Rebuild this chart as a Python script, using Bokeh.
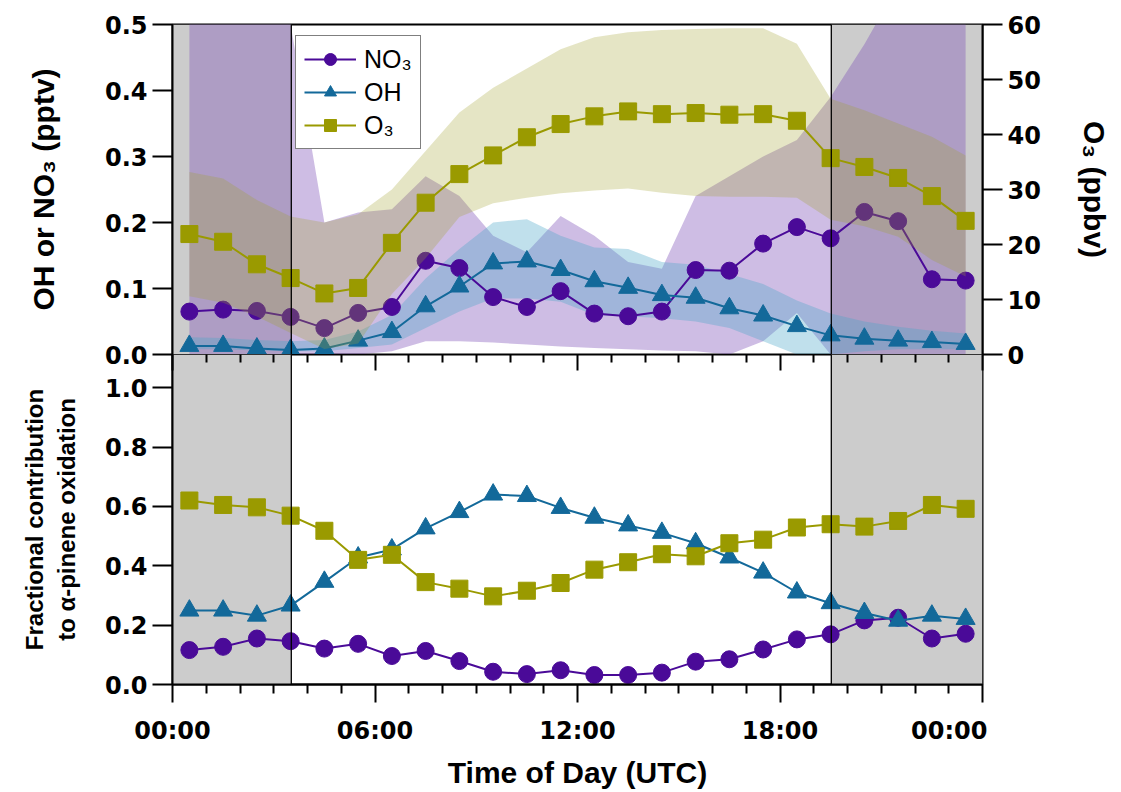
from bokeh.plotting import figure
from bokeh.models import (Range1d, LinearAxis, FixedTicker, PrintfTickFormatter, BoxAnnotation,
                          Span, Legend, LegendItem, CustomJSTickFormatter)
from bokeh.layouts import column
from bokeh.embed import file_html
from bokeh.resources import INLINE

# ---------------- data ----------------
hours = [0.5, 1.5, 2.5, 3.5, 4.5, 5.5, 6.5, 7.5, 8.5, 9.5, 10.5, 11.5,
         12.5, 13.5, 14.5, 15.5, 16.5, 17.5, 18.5, 19.5, 20.5, 21.5, 22.5, 23.5]

# top panel: mixing ratios
no3 = [0.065, 0.068, 0.066, 0.057, 0.040, 0.063, 0.072, 0.142, 0.131, 0.087, 0.072, 0.096,
       0.062, 0.058, 0.065, 0.128, 0.127, 0.168, 0.193, 0.176, 0.216, 0.202, 0.114, 0.112]
no3_lo = [0.0, 0.0, 0.0, 0.0, 0.0, 0.0, 0.005, 0.02, 0.02, 0.018, 0.015, 0.012,
          0.01, 0.008, 0.006, 0.005, 0.0, 0.02, 0.063, 0.0, 0.0, 0.0, 0.0, 0.0]
no3_hi = [0.60, 0.60, 0.60, 0.50, 0.20, 0.215, 0.22, 0.27, 0.24, 0.18, 0.155, 0.21,
          0.18, 0.14, 0.13, 0.24, 0.27, 0.30, 0.325, 0.39, 0.47, 0.56, 0.60, 0.60]

oh = [0.013, 0.013, 0.009, 0.007, 0.009, 0.021, 0.034, 0.073, 0.103, 0.138, 0.141, 0.128,
      0.111, 0.101, 0.090, 0.086, 0.070, 0.059, 0.043, 0.029, 0.024, 0.021, 0.019, 0.016]
oh_lo = [0.008, 0.008, 0.006, 0.005, 0.005, 0.01, 0.015, 0.04, 0.065, 0.085, 0.085, 0.08,
         0.06, 0.058, 0.055, 0.05, 0.04, 0.02, 0.0, 0.0, 0.005, 0.008, 0.008, 0.008]
oh_hi = [0.026, 0.025, 0.022, 0.02, 0.022, 0.035, 0.06, 0.115, 0.16, 0.2, 0.205, 0.18,
         0.162, 0.16, 0.14, 0.136, 0.122, 0.107, 0.082, 0.062, 0.05, 0.042, 0.036, 0.032]

o3 = [21.9, 20.5, 16.4, 13.9, 11.1, 12.1, 20.3, 27.6, 32.8, 36.2, 39.5, 41.9,
      43.3, 44.2, 43.7, 43.9, 43.6, 43.7, 42.5, 35.7, 34.1, 32.1, 28.8, 24.3]
o3_lo = [10.6, 9.4, 6.9, 3.9, 1.0, 2.0, 11.0, 17.5, 25.0, 27.5, 28.5, 29.3,
         29.8, 30.2, 29.4, 28.8, 28.7, 28.7, 28.5, 24.5, 23.3, 21.4, 17.2, 14.2]
o3_hi = [33.2, 32.0, 28.1, 25.1, 24.0, 25.5, 30.0, 37.0, 44.0, 48.5, 52.0, 55.5,
         57.7, 58.6, 59.0, 59.2, 59.3, 59.3, 56.5, 46.5, 44.4, 42.0, 39.6, 36.2]

# bottom panel: fractional contribution to alpha-pinene oxidation
frac_no3 = [0.116, 0.127, 0.155, 0.146, 0.121, 0.137, 0.096, 0.113, 0.079, 0.043, 0.035, 0.048,
            0.032, 0.032, 0.040, 0.077, 0.085, 0.118, 0.152, 0.169, 0.216, 0.225, 0.155, 0.171]
frac_oh = [0.249, 0.249, 0.232, 0.266, 0.346, 0.428, 0.455, 0.526, 0.581, 0.640, 0.635, 0.595,
           0.562, 0.536, 0.511, 0.476, 0.428, 0.377, 0.310, 0.274, 0.241, 0.215, 0.232, 0.221]
frac_o3 = [0.620, 0.605, 0.597, 0.569, 0.518, 0.420, 0.437, 0.345, 0.323, 0.297, 0.316, 0.342,
           0.387, 0.412, 0.439, 0.432, 0.476, 0.488, 0.529, 0.540, 0.532, 0.551, 0.605, 0.592]

sunrise = 3.52
sunset = 19.52
x_ticks = [0, 6, 12, 18, 24]
x_tick_labels = ["00:00", "06:00", "12:00", "18:00", "00:00"]
x_minor = [1, 2, 3, 4, 5, 7, 8, 9, 10, 11, 13, 14, 15, 16, 17, 19, 20, 21, 22, 23]
top_ticks = [0.0, 0.1, 0.2, 0.3, 0.4, 0.5]
o3_ticks = [0, 10, 20, 30, 40, 50, 60]
frac_ticks = [0.0, 0.2, 0.4, 0.6, 0.8, 1.0]

C_NO3 = "#4a0a98"
C_OH = "#13699a"
C_O3 = "#9a9a00"
TICK_FONT = "DejaVu Sans"
TITLE_FONT = "Liberation Sans"
OVERLAP = 20

def style_axis(ax, tick_len=20):
    ax.axis_line_color = "black"
    ax.axis_line_width = 2
    ax.major_tick_line_color = "black"
    ax.major_tick_line_width = 2
    ax.major_tick_out = tick_len
    ax.major_tick_in = 0
    ax.minor_tick_line_color = None
    ax.major_label_text_font = TICK_FONT
    ax.major_label_text_font_style = "bold"
    ax.major_label_text_font_size = "24px"
    ax.major_label_text_color = "black"
    ax.axis_label_text_font = TITLE_FONT
    ax.axis_label_text_font_style = "bold"
    ax.axis_label_text_color = "black"

# ---------------- top panel ----------------
top = figure(frame_width=810, frame_height=330, x_range=Range1d(0, 24), y_range=Range1d(0, 0.5),
             output_backend="svg", toolbar_location=None, x_axis_location=None,
             min_border_left=172, min_border_top=24, min_border_bottom=OVERLAP, min_border_right=5)
top.extra_y_ranges = {"o3": Range1d(0, 60)}
top.grid.visible = False
top.outline_line_color = "black"
top.outline_line_width = 2
top.background_fill_color = "white"

for a, b in [(0, sunrise), (sunset, 24)]:
    top.add_layout(BoxAnnotation(left=a, right=b, fill_color="#cccccc", fill_alpha=1.0,
                                 line_color=None, level="underlay"))

top.varea(x=hours, y1=no3_lo, y2=no3_hi, fill_color="#7e52b8", fill_alpha=0.38)
top.varea(x=hours, y1=oh_lo, y2=oh_hi, fill_color="#4aa6c8", fill_alpha=0.35)

l_no3 = top.line(hours, no3, line_color=C_NO3, line_width=2)
s_no3 = top.scatter(hours, no3, marker="circle", size=17, fill_color=C_NO3, line_color=C_NO3)
l_oh = top.line(hours, oh, line_color=C_OH, line_width=2)
s_oh = top.scatter(hours, oh, marker="triangle", size=19, fill_color=C_OH, line_color=C_OH)

top.varea(x=hours, y1=o3_lo, y2=o3_hi, fill_color="#a0a030", fill_alpha=0.28, y_range_name="o3")
l_o3 = top.line(hours, o3, line_color=C_O3, line_width=2, y_range_name="o3")
s_o3 = top.scatter(hours, o3, marker="square", size=17, fill_color=C_O3, line_color=C_O3,
                   y_range_name="o3")

ly = top.yaxis[0]
ly.ticker = FixedTicker(ticks=top_ticks)
ly.formatter = PrintfTickFormatter(format="%.1f")
style_axis(ly)
ly.axis_label = "OH or NO₃ (pptv)"
ly.axis_label_text_font_size = "30px"
ly.axis_label_standoff = 42

ry = LinearAxis(y_range_name="o3", ticker=FixedTicker(ticks=o3_ticks))
style_axis(ry)
ry.axis_label = "O₃ (ppbv)"
ry.axis_label_text_font_size = "30px"
ry.axis_label_standoff = 34
top.add_layout(ry, "right")

for s in (sunrise, sunset):
    top.add_layout(Span(location=s, dimension="height", line_color="black", line_width=1.3))

legend = Legend(items=[LegendItem(label="NO₃", renderers=[l_no3, s_no3]),
                       LegendItem(label="OH", renderers=[l_oh, s_oh]),
                       LegendItem(label="O₃", renderers=[l_o3, s_o3])],
                location=(123, 205))
legend.label_text_font = "Liberation Sans"
legend.label_text_font_size = "25px"
legend.label_text_color = "black"
legend.glyph_width = 52
legend.glyph_height = 30
legend.label_height = 30
legend.spacing = 3
legend.padding = 8
legend.margin = 0
legend.label_standoff = 8
legend.border_line_color = "black"
legend.border_line_width = 1.5
legend.background_fill_alpha = 1.0
top.add_layout(legend)

# ---------------- bottom panel ----------------
bot = figure(frame_width=810, frame_height=330, x_range=top.x_range, y_range=Range1d(0, 1.112),
             output_backend="svg", toolbar_location=None,
             min_border_left=172, min_border_top=0, min_border_bottom=5, min_border_right=5)
bot.grid.visible = False
bot.outline_line_color = "black"
bot.outline_line_width = 2
bot.border_fill_alpha = 0.0
bot.margin = (-OVERLAP, 0, 0, 0)

for a, b in [(0, sunrise), (sunset, 24)]:
    bot.add_layout(BoxAnnotation(left=a, right=b, fill_color="#cccccc", fill_alpha=1.0,
                                 line_color=None, level="underlay"))

bot.line(hours, frac_no3, line_color=C_NO3, line_width=2)
bot.scatter(hours, frac_no3, marker="circle", size=17, fill_color=C_NO3, line_color=C_NO3)
bot.line(hours, frac_oh, line_color=C_OH, line_width=2)
bot.scatter(hours, frac_oh, marker="triangle", size=19, fill_color=C_OH, line_color=C_OH)
bot.line(hours, frac_o3, line_color=C_O3, line_width=2)
bot.scatter(hours, frac_o3, marker="square", size=17, fill_color=C_O3, line_color=C_O3)

for s in (sunrise, sunset):
    bot.add_layout(Span(location=s, dimension="height", line_color="black", line_width=1.3))

by = bot.yaxis[0]
by.ticker = FixedTicker(ticks=frac_ticks)
by.formatter = PrintfTickFormatter(format="%.1f")
style_axis(by)
by.axis_label = "Fractional contribution\nto α-pinene oxidation"
by.axis_label_text_font_size = "24px"
by.axis_label_standoff = 22

bx = bot.xaxis[0]
bx.ticker = FixedTicker(ticks=x_ticks, minor_ticks=x_minor)
bx.major_label_overrides = {t: lab for t, lab in zip(x_ticks, x_tick_labels)}
style_axis(bx, tick_len=18)
bx.minor_tick_line_color = "black"
bx.minor_tick_line_width = 2
bx.minor_tick_out = 9
bx.minor_tick_in = 0
bx.major_label_standoff = 14
bx.major_label_text_font_size = "24px"
bx.axis_label = "Time of Day (UTC)"
bx.axis_label_text_font_size = "30px"
bx.axis_label_standoff = 8

tx = LinearAxis(ticker=FixedTicker(ticks=x_ticks, minor_ticks=x_minor),
                formatter=CustomJSTickFormatter(code="return ''"))
tx.axis_line_color = None
tx.major_tick_line_color = "black"
tx.major_tick_line_width = 2
tx.major_tick_in = 16
tx.major_tick_out = 0
tx.minor_tick_line_color = "black"
tx.minor_tick_line_width = 2
tx.minor_tick_in = 8
tx.minor_tick_out = 0
tx.major_label_standoff = 0
tx.major_label_text_font_size = "0px"
bot.add_layout(tx, "above")

layout = column(top, bot, spacing=0)
open("out.html", "w").write(file_html(layout, INLINE))
